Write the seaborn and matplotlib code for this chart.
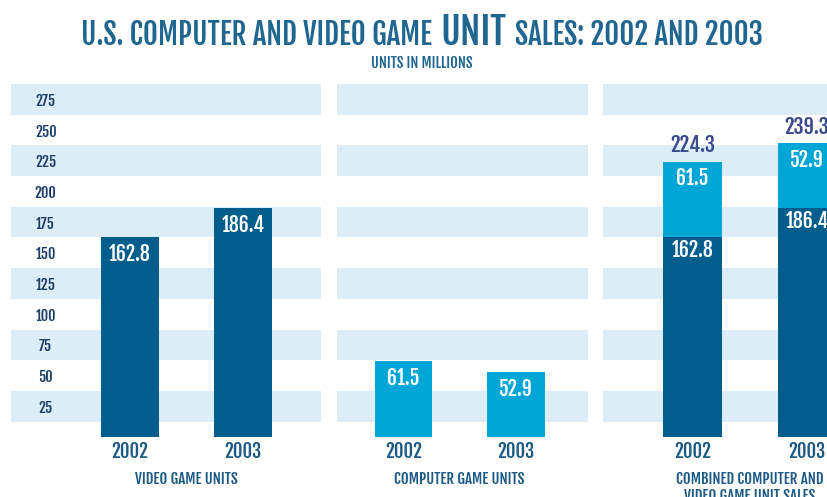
import os
import matplotlib
matplotlib.use("Agg")
import matplotlib.pyplot as plt
from matplotlib import font_manager as fm
from matplotlib.transforms import IdentityTransform
import seaborn as sns

# ---- data (millions of units) ----
years = ["2002", "2003"]
video_units = [162.8, 186.4]
computer_units = [61.5, 52.9]
panel_names = ["VIDEO GAME UNITS", "COMPUTER GAME UNITS",
               "COMBINED COMPUTER AND\nVIDEO GAME UNIT SALES"]
tick_values = [25, 50, 75, 100, 125, 150, 175, 200, 225, 250, 275]
title_parts = ["U.S. COMPUTER AND VIDEO GAME", "UNIT", "SALES: 2002 AND 2003"]
subtitle = "UNITS IN MILLIONS"

# ---- colours ----
DARK = "#005d8c"
LIGHT = "#00a6d6"
STRIPE = "#dcedf7"
TITLE_C = "#1f6690"
TICK_C = "#1d3f68"
YEAR_C = "#1d5b85"
TOTAL_C = "#3a4a8f"

sns.set_theme(style="white")


def _path(fam, weight):
    try:
        return fm.findfont(fm.FontProperties(family=fam, weight=weight),
                           fallback_to_default=False)
    except ValueError:
        return None


# a heavy narrow gothic face
FAMILY, WEIGHT = "DejaVu Sans", "bold"
p = _path("Oswald", "bold")
if p and "bold" in os.path.basename(p).lower():
    FAMILY, WEIGHT = "Oswald", "bold"
else:
    for fam in ["Fjalla One", "Antonio", "League Gothic", "Bebas Neue", "Oswald",
                "Roboto Condensed"]:
        if _path(fam, "normal"):
            FAMILY, WEIGHT = fam, "normal"
            break


def font(size):
    return fm.FontProperties(family=FAMILY, weight=WEIGHT, size=size)


W, H = 827, 497
fig = plt.figure(figsize=(W / 100, H / 100), dpi=100)
fig.patch.set_facecolor("white")
R = fig.canvas.get_renderer()


def fit(text, width_px):
    """Font size (pt) at which `text` is about width_px wide."""
    t = fig.text(0, 0, text, fontproperties=font(20))
    w = t.get_window_extent(R).width
    t.remove()
    return 20 * width_px / w


Y_TOP, Y_BOT = 84, 437
YMAX = 287.5

YEAR_SIZE = fit("2002", 37)
NAME_SIZE = fit("VIDEO GAME UNITS", 103)
INNER_SIZE = fit("162.8", 42)
TOTAL_SIZE = fit("224.3", 45)
TICK_SIZE = fit("275", 20)


def px_axes(x0, x1):
    return fig.add_axes([x0 / W, 1 - Y_BOT / H, (x1 - x0) / W, (Y_BOT - Y_TOP) / H])


def base_panel(ax, xlim, name):
    for v in tick_values[::2]:
        ax.axhspan(v - 12.5, v + 12.5, color=STRIPE, lw=0, zorder=0)
    ax.set_ylim(0, YMAX)
    ax.set_xlim(*xlim)
    ax.set_xlabel("")
    ax.set_ylabel("")
    for s in ax.spines.values():
        s.set_visible(False)
    ax.patch.set_alpha(0)
    ax.set_xticks([0, 1])
    ax.set_xticklabels(years)
    ax.tick_params(axis="x", length=0, pad=3, colors=YEAR_C)
    for lab in ax.get_xticklabels():
        lab.set_fontproperties(font(YEAR_SIZE))
    ax.set_yticks([])
    ax.annotate(name, xy=(0.5, 0), xycoords=("data", "axes fraction"),
                xytext=(0, -34), textcoords="offset pixels",
                ha="center", va="top", color=YEAR_C,
                fontproperties=font(NAME_SIZE), linespacing=1.05)


def inner_label(ax, i, top, value, off=-12):
    ax.annotate(f"{value:.1f}", xy=(i, top), xytext=(0, off), textcoords="offset points",
                ha="center", va="center", color="white", fontproperties=font(INNER_SIZE))


# panel 1: video game units
ax1 = px_axes(11, 321)
sns.barplot(x=years, y=video_units, ax=ax1, color=DARK, width=0.51,
            saturation=1, linewidth=0, zorder=2)
base_panel(ax1, (-1.053, 1.690), panel_names[0])
ax1.set_yticks(tick_values)
ax1.set_yticklabels([str(v) for v in tick_values])
ax1.tick_params(axis="y", length=0, pad=-25, colors=TICK_C)
for lab in ax1.get_yticklabels():
    lab.set_fontproperties(font(TICK_SIZE))
    lab.set_horizontalalignment("center")
for i, v in enumerate(video_units):
    inner_label(ax1, i, v, v)

# panel 2: computer game units
ax2 = px_axes(337, 588)
sns.barplot(x=years, y=computer_units, ax=ax2, color=LIGHT, width=0.51,
            saturation=1, linewidth=0, zorder=2)
base_panel(ax2, (-0.591, 1.640), panel_names[1])
for i, v in enumerate(computer_units):
    inner_label(ax2, i, v, v)

# panel 3: combined, computer units stacked on video units
totals = [a + b for a, b in zip(video_units, computer_units)]
ax3 = px_axes(603, 885)
sns.barplot(x=years, y=totals, ax=ax3, color=LIGHT, width=0.51,
            saturation=1, linewidth=0, zorder=2)
sns.barplot(x=years, y=video_units, ax=ax3, color=DARK, width=0.51,
            saturation=1, linewidth=0, zorder=3)
base_panel(ax3, (-0.782, 1.681), panel_names[2])
for i, (v, c, t) in enumerate(zip(video_units, computer_units, totals)):
    inner_label(ax3, i, t, c)
    inner_label(ax3, i, v, v, off=-9.5)
    ax3.annotate(f"{t:.1f}", xy=(i, t), xytext=(0, 12), textcoords="offset points",
                 ha="center", va="center", color=TOTAL_C, fontproperties=font(TOTAL_SIZE))

# title with an enlarged "UNIT", fitted to the span 81..763 px
sizes = [21, 27, 21]
gap = 9
pieces = [fig.text(0, H - 45, txt, fontproperties=font(sz), color=TITLE_C,
                   va="baseline", ha="left", transform=IdentityTransform())
          for txt, sz in zip(title_parts, sizes)]
widths = [p.get_window_extent(R).width for p in pieces]
scale = (682 - 2 * gap) / sum(widths)
for p, sz in zip(pieces, sizes):
    p.set_fontproperties(font(sz * scale))
widths = [p.get_window_extent(R).width for p in pieces]
x = 422 - (sum(widths) + 2 * gap) / 2
for p, w in zip(pieces, widths):
    p.set_x(x)
    x += w + gap
fig.text(422, H - 63, subtitle, fontproperties=font(fit(subtitle, 101)),
         color=TITLE_C, ha="center", va="center", transform=IdentityTransform())

fig.savefig("out.png", dpi=100)
